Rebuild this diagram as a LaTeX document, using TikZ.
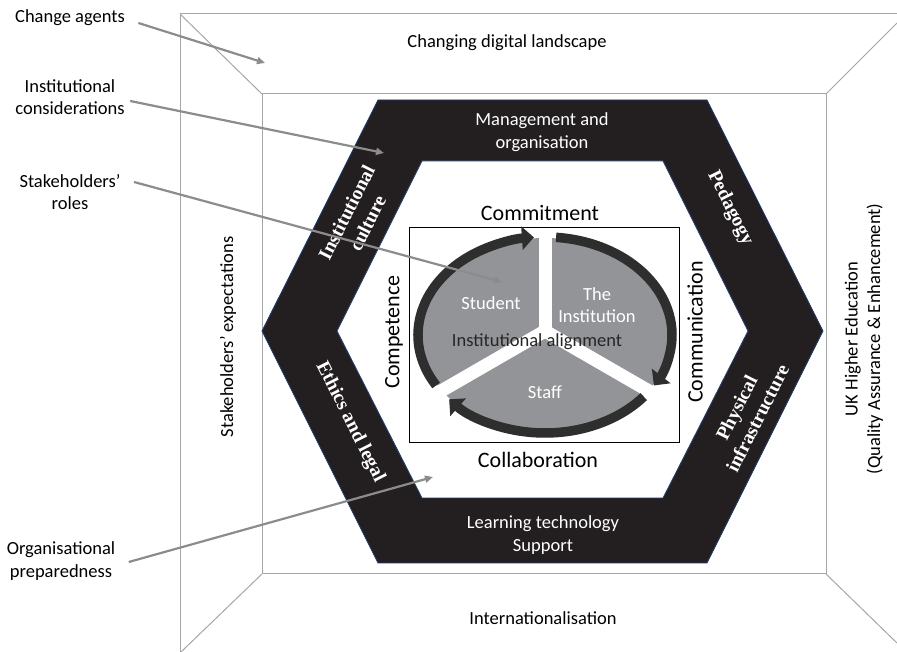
\documentclass[tikz,border=0pt]{standalone}
\usepackage{fontspec}
\setmainfont{Carlito}
\newfontfamily\bandfont{Liberation Serif}
\usetikzlibrary{arrows.meta}
\definecolor{framegray}{HTML}{A6A6A6}
\definecolor{bandblack}{HTML}{231F20}
\definecolor{bandedge}{HTML}{1F3A6E}
\definecolor{piegray}{HTML}{939497}
\definecolor{ringdark}{HTML}{2E2E2E}
\definecolor{pointergray}{HTML}{8C8C8C}
\tikzset{
  frame/.style={draw=framegray, line width=1pt},
  band/.style={fill=bandblack, draw=bandedge, line width=0.8pt},
  bandtext/.style={text=white, font=\bandfont\bfseries\fontsize{19.5}{23.5}\selectfont, align=center},
  whitetext/.style={text=white, font=\fontsize{18.5}{22.5}\selectfont, align=center},
  sidetext/.style={font=\fontsize{18.5}{22.5}\selectfont, align=center},
  cword/.style={font=\fontsize{22}{26}\selectfont},
  ring/.style={draw=ringdark, line width=9.5pt, -{Triangle[length=12pt,width=23pt]}},
  gap/.style={draw=white, line width=13pt},
  pointer/.style={draw=pointergray, line width=2.2pt, -{Triangle[length=8pt,width=7pt]}},
}
\begin{document}
\begin{tikzpicture}[x=1pt, y=1pt]
      \useasboundingbox (0,0) rectangle (897,652);

      % frame
      \draw[frame] (180,638) to (897,638);
      \draw[frame] (180,638) to (180,0);
      \draw[frame] (262,78) rectangle (826,558);
      \draw[frame] (180,638) to (262,558);
      \draw[frame] (897,629) to (826,558);
      \draw[frame] (262,78) to (181,0);
      \draw[frame] (826,78) to (897,9);

      % hexagon band
      \draw[band] (262,321) -- (378,552) -- (707,552) -- (823,321) -- (707,89) -- (378,89) -- cycle;
      \draw[band, fill=white] (337,321) -- (422,491) -- (663,491) -- (748,321) -- (663,154) -- (422,154) -- cycle;

      % alignment box
      \draw[line width=0.8pt] (409,210) rectangle (679,425);

      \coordinate (pie) at (545,317);
      \coordinate (hub) at (545,321);
      \fill[piegray] (pie) ellipse (126pt and 97pt);
      \draw[gap] (hub) -- ++(90:102);
      \draw[gap] (hub) -- ++(210:130);
      \draw[gap] (hub) -- ++(330:130);
      \draw[ring] (pie) ++(211:127pt and 98pt) arc[start angle=211, end angle=95, x radius=127pt, y radius=98pt];
      \draw[ring] (pie) ++(85:127pt and 98pt) arc[start angle=85, end angle=-31, x radius=127pt, y radius=98pt];
      \draw[ring] (pie) ++(-39:127pt and 98pt) arc[start angle=-39, end angle=-139, x radius=127pt, y radius=98pt];

      \node[whitetext] (student) at (491,349) {Student};
      \node[whitetext] (institution) at (597,347) {The\\Institution};
      \node[whitetext] (staff) at (545,260) {Staff};
      \node[sidetext, text=black!85] (alignment) at (537,310) {Institutional alignment};

      \node[cword] (commitment) at (540,439) {Commitment};
      \node[cword] (collaboration) at (538,192) {Collaboration};
      \node[cword, rotate=90] (competence) at (394,320) {Competence};
      \node[cword, rotate=90] (communication) at (695,320) {Communication};

      % band labels
      \node[whitetext] (management) at (542,520) {Management and\\organisation};
      \node[whitetext] (learning) at (543,117) {Learning technology\\Support};
      \node[bandtext, rotate=63.3] (culture) at (357,434) {Institutional\\culture};
      \node[bandtext, rotate=-63.3] (pedagogy) at (730,444) {Pedagogy};
      \node[bandtext, rotate=-63.3] (ethics) at (350,230) {Ethics and legal};
      \node[bandtext, rotate=63.3] (physical) at (747,239) {Physical\\infrastructure};

      % outer layer
      \node[sidetext] (landscape) at (507,609) {Changing digital landscape};
      \node[sidetext] (international) at (543,34) {Internationalisation};
      \node[sidetext, rotate=90] (expectations) at (228,315) {Stakeholders’ expectations};
      \node[sidetext, rotate=90] (ukhe) at (864,313) {UK Higher Education\\(Quality Assurance \& Enhancement)};

      % side labels
      \node[sidetext] (agents) at (70,634) {Change agents};
      \node[sidetext] (considerations) at (70,555) {Institutional\\considerations};
      \node[sidetext] (roles) at (70,460) {Stakeholders’\\roles};
      \node[sidetext] (preparedness) at (61,91) {Organisational\\preparedness};

      \coordinate (agents-end) at (265,589);
      \coordinate (considerations-end) at (384,499);
      \coordinate (roles-end) at (502,370);
      \coordinate (preparedness-end) at (433,175);
      \draw[pointer] (agents.east) ++(10,-5) -- (agents-end);
      \draw[pointer] (considerations.east) ++(2,-4) -- (considerations-end);
      \draw[pointer] (roles.east) ++(10,10) -- (roles-end);
      \draw[pointer] (preparedness.east) ++(10,-1) -- (preparedness-end);

    \end{tikzpicture}
\end{document}
